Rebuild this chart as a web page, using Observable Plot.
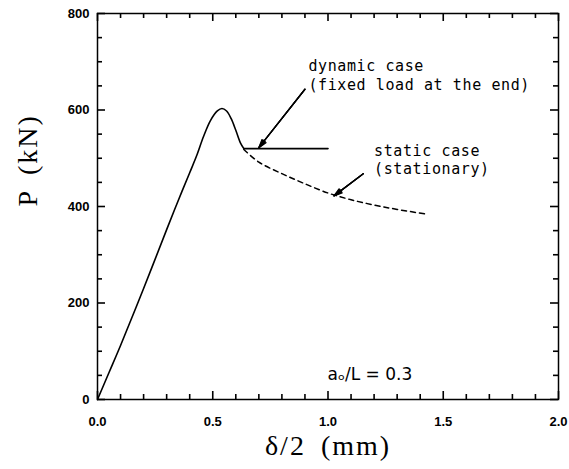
<!DOCTYPE html>
<html><head><meta charset="utf-8">
<script src="https://cdn.jsdelivr.net/npm/d3@7"></script>
<script src="https://cdn.jsdelivr.net/npm/@observablehq/plot@0.6"></script>
<style>
body{margin:0;background:#fff;}
</style></head><body><div id="chart"></div>
<script>
// loading curve (solid)
const loadX = [0, 0.05, 0.1, 0.2, 0.3, 0.35, 0.4, 0.43, 0.46, 0.49, 0.52, 0.54, 0.56, 0.58, 0.60, 0.62, 0.635];
const loadP = [0, 56, 112, 230, 352, 412, 470, 505, 545, 578, 598, 603, 598, 582, 558, 532, 520];
// dynamic case (fixed load at the end)
const dynX = [0.635, 1.0];
const dynP = [520, 520];
// static case (stationary), dashed
const statX = [0.635, 0.7, 0.8, 0.9, 1.0, 1.1, 1.2, 1.3, 1.43];
const statP = [518, 492, 468, 447, 428, 414, 403, 394, 384];
// ticks
const xMajor = [0, 0.5, 1.0, 1.5, 2.0];
const xMinor = [0.1, 0.2, 0.3, 0.4, 0.6, 0.7, 0.8, 0.9, 1.1, 1.2, 1.3, 1.4, 1.6, 1.7, 1.8, 1.9];
const yMajor = [0, 200, 400, 600, 800];
const yMinor = [50, 100, 150, 250, 300, 350, 450, 500, 550, 650, 700, 750];
// annotations
const noteText = ["dynamic case", "(fixed load at the end)", "static case", "(stationary)"];
const noteX = [0.915, 0.915, 1.2, 1.2];
const noteP = [690, 652, 515, 477];
const arrowX1 = [0.90, 1.153];
const arrowP1 = [643, 468];
const arrowX2 = [0.70, 1.026];
const arrowP2 = [522, 422];
const ratioText = "aₒ/L = 0.3";
const ratioX = 0.998, ratioP = 52;
const xTitle = "δ/2 (mm)";
const yTitle = "P (kN)";

const rows = (xs, ps) => xs.map((x, i) => ({x, p: ps[i]}));
const arrows = arrowX1.map((x1, i) => ({x1, y1: arrowP1[i], x2: arrowX2[i], y2: arrowP2[i]}));
const notes = noteText.map((t, i) => ({t, x: noteX[i], p: noteP[i]}));

const W = 569, H = 469, mL = 97, mR = 11, mT = 13, mB = 70;
const frameW = W - mL - mR, frameH = H - mT - mB;
const [xMin, xMax] = [0, 2];
const [yMin, yMax] = [0, 800];
// tick lengths given in pixels, converted to domain units for rules
const pxX = px => px * (xMax - xMin) / frameW;
const pxY = px => px * (yMax - yMin) / frameH;
const tickFont = {fontFamily: "Liberation Sans", fontSize: 13, fontWeight: "bold"};
const ts = {stroke: "black", strokeWidth: 1.6};

const ticksX = (vals, len) => [
  Plot.ruleX(vals, {x: d => d, y1: yMin, y2: yMin + pxY(len), ...ts}),
  Plot.ruleX(vals, {x: d => d, y1: yMax, y2: yMax - pxY(len), ...ts})
];
const ticksY = (vals, len) => [
  Plot.ruleY(vals, {y: d => d, x1: xMin, x2: xMin + pxX(len), ...ts}),
  Plot.ruleY(vals, {y: d => d, x1: xMax, x2: xMax - pxX(len), ...ts})
];

const chart = Plot.plot({
  width: W, height: H,
  marginLeft: mL, marginRight: mR, marginTop: mT, marginBottom: mB,
  x: {domain: [xMin, xMax]},
  y: {domain: [yMin, yMax]},
  style: {background: "white", color: "black", overflow: "visible"},
  marks: [
    Plot.frame({stroke: "black", strokeWidth: 1.5}),
    ...ticksX(xMinor, 5), ...ticksX(xMajor, 8),
    ...ticksY(yMinor, 5), ...ticksY(yMajor, 8),
    // tick labels
    Plot.axisX(xMajor, {anchor: "bottom", tickSize: 0, tickPadding: 17, tickFormat: d => d.toFixed(1), label: null, ...tickFont}),
    Plot.axisY(yMajor, {anchor: "left", tickSize: 0, tickPadding: 8, tickFormat: d => String(d), label: null, ...tickFont}),
    // curves
    Plot.line(rows(loadX, loadP), {x: "x", y: "p", curve: "catmull-rom", strokeWidth: 1.6, stroke: "black"}),
    Plot.line(rows(dynX, dynP), {x: "x", y: "p", strokeWidth: 1.6, stroke: "black"}),
    Plot.line(rows(statX, statP), {x: "x", y: "p", curve: "catmull-rom", strokeWidth: 1.5, stroke: "black", strokeDasharray: "5,4"}),
    // arrows (layered heads to look filled)
    ...[12, 22, 34].map(a => Plot.arrow(arrows, {x1: "x1", y1: "y1", x2: "x2", y2: "y2", headLength: 10, headAngle: a, strokeWidth: 1.3, stroke: "black"})),
    // annotations
    Plot.text(notes, {x: "x", y: "p", text: "t", textAnchor: "start", lineAnchor: "middle", fontFamily: "DejaVu Sans Mono", fontSize: 15, fill: "black"}),
    Plot.text([ratioText], {x: ratioX, y: ratioP, text: d => d, textAnchor: "start", lineAnchor: "middle", fontFamily: "DejaVu Sans", fontSize: 17, fill: "black"}),
    // axis titles
    Plot.text([xTitle], {frameAnchor: "bottom", dy: 47, lineAnchor: "middle", fontFamily: "Liberation Serif", fontSize: 28, fill: "black", text: d => d}),
    Plot.text([yTitle], {frameAnchor: "left", dx: -69, rotate: -90, lineAnchor: "middle", fontFamily: "Liberation Serif", fontSize: 28, fill: "black", text: d => d})
  ]
});
// typographic spacing only
d3.select(chart).selectAll("text").each(function() {
  const t = this.textContent;
  if (noteText.includes(t)) this.style.letterSpacing = "0.6px";
  if (t === xTitle || t === yTitle) { this.style.letterSpacing = "2px"; this.style.wordSpacing = "6px"; }
});
document.getElementById("chart").appendChild(chart);
</script></body></html>
